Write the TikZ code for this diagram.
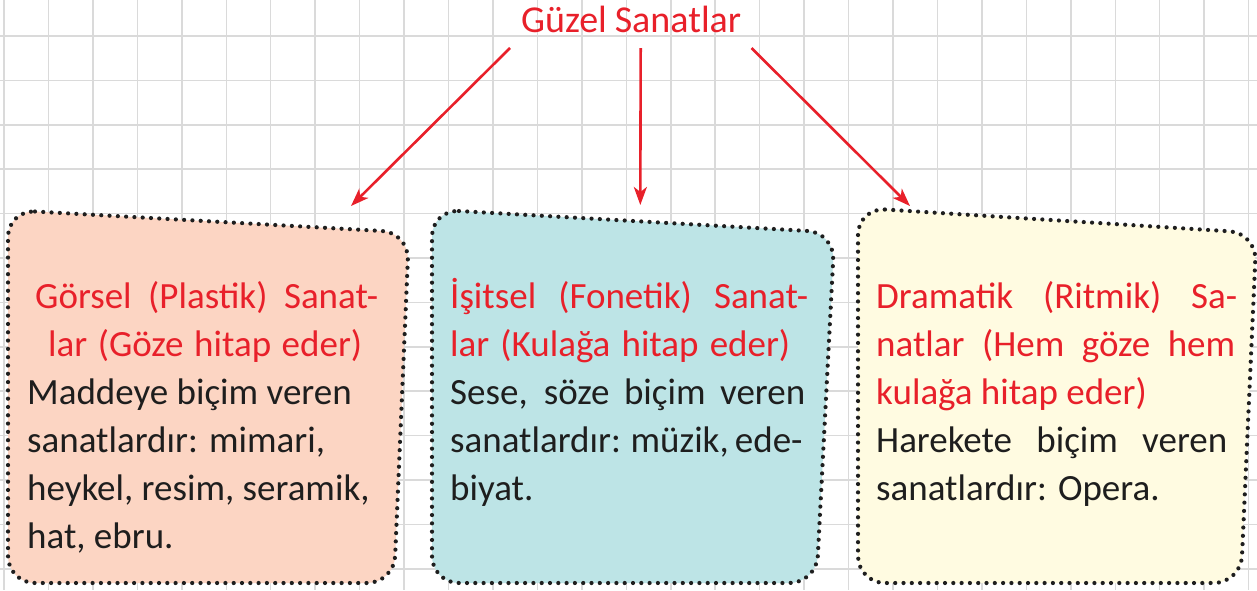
\documentclass[tikz,border=0pt]{standalone}
\usepackage{fontspec}
\setmainfont{Carlito}
\usetikzlibrary{arrows.meta}
\definecolor{tred}{RGB}{232,32,42}
\definecolor{gridgray}{RGB}{218,218,218}
\definecolor{salmon}{RGB}{252,213,195}
\definecolor{paleblue}{RGB}{189,228,230}
\definecolor{paleyellow}{RGB}{255,251,225}
\definecolor{dotblack}{RGB}{30,30,30}
\tikzset{
  gridline/.style={draw=gridgray, line width=1.5pt},
  dotbox/.style={draw=dotblack, line width=4.2pt, line cap=round, dash pattern=on 0pt off 8.3pt, rounded corners=27pt},
  redarrow/.style={draw=tred, line width=2.6pt, -{Stealth[length=18pt,width=13pt,inset=5pt]}},
  txt/.style={anchor=base west, inner sep=0pt, font=\fontsize{37}{42}\selectfont},
  redtxt/.style={txt, text=tred},
  blacktxt/.style={txt, text=dotblack},
}
\begin{document}
\begin{tikzpicture}[x=1pt,y=-1pt]
\useasboundingbox (0,0) rectangle (1257,590);
\fill[white] (0,0) rectangle (1257,590);
% grid
\begin{scope}
\clip (0,0) rectangle (1257,590);
\foreach \i in {0,...,28} { \draw[gridline] ({4+44.45*\i},0) -- ({4+44.45*\i},590); }
\foreach \j in {0,...,12} { \draw[gridline] (0,{36+44.4*\j}) -- (1257,{36+44.4*\j}); }
\end{scope}
% boxes
\fill[salmon, rounded corners=27pt] (8,210) -- (409,232.5) -- (394,583) -- (8,583) -- cycle;
\path[dotbox] (8,210) -- (409,232.5) -- (394,583) -- (8,583) -- cycle;
\fill[paleblue, rounded corners=27pt] (432,209.5) -- (834.6,232.5) -- (816.4,583) -- (432,583) -- cycle;
\path[dotbox] (432,209.5) -- (834.6,232.5) -- (816.4,583) -- (432,583) -- cycle;
\fill[paleyellow, rounded corners=27pt] (858,207.8) -- (1256.5,233) -- (1240.8,583) -- (858,583) -- cycle;
\path[dotbox] (858,207.8) -- (1256.5,233) -- (1240.8,583) -- (858,583) -- cycle;
% title
\node[redtxt, font=\fontsize{38}{42}\selectfont] (title) at (521,32) {\makebox[220pt][s]{Güzel Sanatlar}};
% arrows
\coordinate (s1) at (510,48);
\coordinate (s2) at (640.7,48);
\coordinate (s3) at (751.5,48);
\coordinate (t1) at (351,206);
\coordinate (t2) at (640.3,205);
\coordinate (t3) at (910,206);
\draw[redarrow] (s1) -- (t1);
\draw[redarrow] (s2) -- (t2);
\draw[redarrow] (s3) -- (t3);
% box 1 text
\node[redtxt] (b1a) at (35,308) {\makebox[343pt][s]{Görsel (Plastik) Sanat-}};
\node[redtxt] (b1b) at (48,356) {\makebox[314pt][s]{lar (Göze hitap eder)}};
\node[blacktxt] (b1c) at (27,404) {Maddeye biçim veren};
\node[blacktxt] (b1d) at (27,452) {sanatlardır: mimari,};
\node[blacktxt] (b1e) at (27,500) {heykel, resim, seramik,};
\node[blacktxt] (b1f) at (27,548) {hat, ebru.};
% box 2 text
\node[redtxt] (b2a) at (450,308) {\makebox[358pt][s]{İşitsel (Fonetik) Sanat-}};
\node[redtxt] (b2b) at (450,356) {\makebox[340pt][s]{lar (Kulağa hitap eder)}};
\node[blacktxt] (b2c) at (450,404) {\makebox[355pt][s]{Sese, söze biçim veren}};
\node[blacktxt] (b2d) at (450,452) {\makebox[350pt][s]{sanatlardır: müzik, ede-}};
\node[blacktxt] (b2e) at (450,500) {biyat.};
% box 3 text
\node[redtxt] (b3a) at (876,308) {\makebox[361pt][s]{Dramatik (Ritmik) Sa-}};
\node[redtxt] (b3b) at (876,356) {\makebox[359pt][s]{natlar (Hem göze hem}};
\node[redtxt] (b3c) at (876,404) {kulağa hitap eder)};
\node[blacktxt] (b3d) at (876,452) {\makebox[351pt][s]{Harekete biçim veren}};
\node[blacktxt] (b3e) at (876,500) {sanatlardır: Opera.};
\end{tikzpicture}
\end{document}
